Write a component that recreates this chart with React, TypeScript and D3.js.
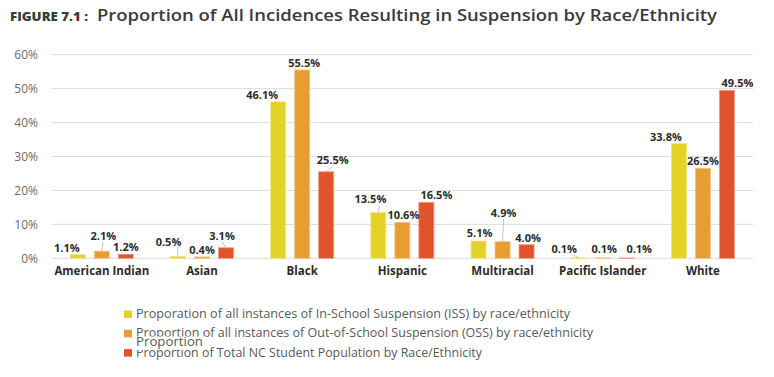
import React from "react";
import * as d3 from "d3";

const categories = ["American Indian", "Asian", "Black", "Hispanic", "Multiracial", "Pacific Islander", "White"];
const issValues = [1.1, 0.5, 46.1, 13.5, 5.1, 0.1, 33.8];
const ossValues = [2.1, 0.4, 55.5, 10.6, 4.9, 0.1, 26.5];
const popValues = [1.2, 3.1, 25.5, 16.5, 4.0, 0.1, 49.5];
const yTicks = [0, 10, 20, 30, 40, 50, 60];
const seriesNames = [
  "Proporation of all instances of In-School Suspension (ISS) by race/ethnicity",
  "Proportion of all instances of Out-of-School Suspension (OSS) by race/ethnicity",
  "Proportion of Total NC Student Population by Race/Ethnicity",
];
const legendWidths = [434, 457, 346];
const colors = ["#e4d327", "#e89d32", "#e0532b"];
const strokeColors = ["#f0e67a", "#f2c47f", "#ec9a80"];

// label layout tweaks [series][category] -> [dx, dy, leader]
const labelAdjust: [number, number, number][][] = [
  [[-11, 0, 0], [-9.5, -8, 1], [-16, 0, 0], [-8, -6, 1], [1, -1, 0], [-14.5, -2, 1], [-13, 0, 0]],
  [[1.5, -8, 1], [0, 0, 0], [2, 0, 0], [1, 0, 0], [1, -22, 1], [1.5, -2, 0], [0, 0, 0]],
  [[0, 0, 0], [-4, -5, 1], [6.5, -4.5, 1], [10, 0, 0], [1.5, 0, 0], [12.5, -2, 0], [10.5, 0, 0]],
];

export default function App() {
  const W = 774, H = 377;
  const left = 51.7, right = 753, top = 54.7, bottom = 258.3;
  const x = d3.scaleBand<string>().domain(categories).range([left, right]).padding(0);
  const y = d3.scaleLinear().domain([0, 60]).range([bottom, top]);
  const barW = 15, step = 24;
  const series = [issValues, ossValues, popValues];
  const labelFont = "'Open Sans', sans-serif";

  return (
    <svg width={W} height={H} style={{ position: "absolute", left: 0, top: 0, background: "#fff" }}>
      <rect width={W} height={H} fill="#fff" />
      <text x={10} y={21} fontFamily="'Open Sans', sans-serif" fontWeight={800} fontSize={11.5} fill="#3b3b3b" textLength={78} lengthAdjust="spacingAndGlyphs">FIGURE 7.1 :</text>
      <text x={97} y={21} fontFamily="'Open Sans', sans-serif" fontWeight={600} fontSize={16} fill="#3b3b3b" textLength={620} lengthAdjust="spacingAndGlyphs">Proportion of All Incidences Resulting in Suspension by Race/Ethnicity</text>

      {yTicks.map((t) => (
        <g key={t}>
          <line x1={left} x2={right} y1={y(t)} y2={y(t)} stroke="#dcdcdc" strokeWidth={1} />
          <text x={38} y={y(t) + 4.5} textAnchor="end" fontFamily="'Open Sans', sans-serif" fontSize={12} fill="#6b6b6b">{t}%</text>
        </g>
      ))}

      {categories.map((c, ci) => {
        const cx = (x(c) as number) + x.bandwidth() / 2;
        return (
          <g key={c}>
            {series.map((s, si) => {
              const bx = cx - step + si * step - barW / 2;
              const v = s[ci];
              const yt = y(v);
              return (
                <rect key={si} x={bx} y={yt} width={barW} height={Math.max(0, bottom - yt)} fill={colors[si]} stroke={strokeColors[si]} strokeWidth={0.8} />
              );
            })}
            <text x={cx} y={275} textAnchor="middle" fontFamily={labelFont} fontWeight={700} fontSize={11.5} fill="#2b2b2b">{c}</text>
          </g>
        );
      })}

      {categories.map((c, ci) => {
        const cx = (x(c) as number) + x.bandwidth() / 2;
        return series.map((s, si) => {
          const bcx = cx - step + si * step;
          const v = s[ci];
          const yt = y(v);
          const [dx, dy, leader] = labelAdjust[si][ci];
          const lx = bcx + dx;
          const ly = yt - 3 + dy;
          return (
            <g key={c + si}>
              {leader ? (
                <line x1={bcx} y1={yt} x2={dx < -5 ? lx + 9 : lx} y2={ly + 2} stroke="#bdbdbd" strokeWidth={0.9} />
              ) : null}
              <text x={lx} y={ly} textAnchor="middle" fontFamily={labelFont} fontWeight={700} fontSize={11} fill="#2b2b2b">{d3.format(".1f")(v)}%</text>
            </g>
          );
        });
      })}

      {seriesNames.map((n, i) => (
        <g key={n}>
          <rect x={124} y={310.5 + i * 19.3} width={8} height={7.5} fill={colors[i]} />
          <text x={136} y={318 + i * 19.3} fontFamily="'Open Sans', sans-serif" fontSize={13.5} fill="#5a5a5a" textLength={legendWidths[i]} lengthAdjust="spacingAndGlyphs">{n}</text>
        </g>
      ))}
      <rect x={135} y={336.5} width={72} height={13.5} fill="#fff" />
      <text x={136} y={346} fontFamily="'Open Sans', sans-serif" fontSize={13.5} fill="#5a5a5a" textLength={67} lengthAdjust="spacingAndGlyphs">Proportion</text>
    </svg>
  );
}
